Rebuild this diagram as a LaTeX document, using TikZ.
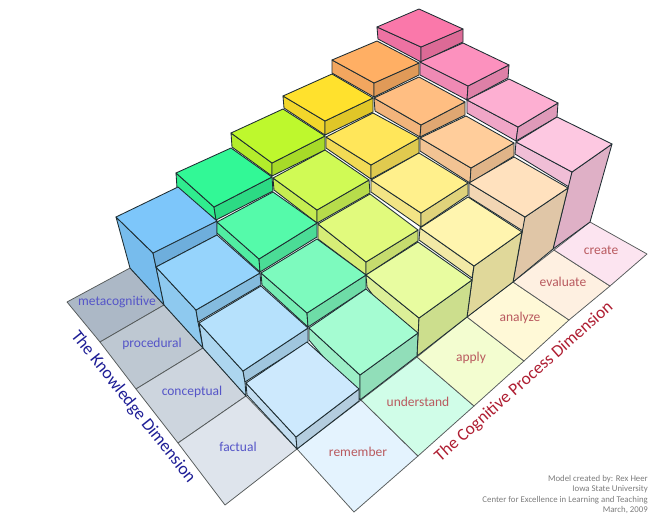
\documentclass[tikz,border=0pt]{standalone}
\usepackage{fontspec}
\setmainfont{Carlito}
\definecolor{kThree0}{RGB}{125,198,250}\definecolor{kThree1}{RGB}{50,248,150}\definecolor{kThree2}{RGB}{190,248,45}\definecolor{kThree3}{RGB}{255,225,45}\definecolor{kThree4}{RGB}{255,175,100}\definecolor{kThree5}{RGB}{250,120,170}
\definecolor{kTwo0}{RGB}{150,212,252}\definecolor{kTwo1}{RGB}{85,250,170}\definecolor{kTwo2}{RGB}{208,250,85}\definecolor{kTwo3}{RGB}{255,230,90}\definecolor{kTwo4}{RGB}{255,190,130}\definecolor{kTwo5}{RGB}{252,145,190}
\definecolor{kOne0}{RGB}{182,225,252}\definecolor{kOne1}{RGB}{125,250,190}\definecolor{kOne2}{RGB}{225,250,125}\definecolor{kOne3}{RGB}{255,240,140}\definecolor{kOne4}{RGB}{255,205,155}\definecolor{kOne5}{RGB}{253,175,210}
\definecolor{kZero0}{RGB}{205,233,253}\definecolor{kZero1}{RGB}{165,252,210}\definecolor{kZero2}{RGB}{232,252,160}\definecolor{kZero3}{RGB}{255,245,175}\definecolor{kZero4}{RGB}{255,225,190}\definecolor{kZero5}{RGB}{253,200,225}
\definecolor{edgecol}{RGB}{30,45,50}
\definecolor{floorline}{RGB}{85,90,90}
\definecolor{knowblue}{RGB}{85,85,200}
\definecolor{cogred}{RGB}{185,90,95}
\definecolor{knowtitle}{RGB}{30,30,150}
\definecolor{cogtitle}{RGB}{175,30,50}
\definecolor{credit}{RGB}{125,125,125}
\tikzset{
  edgeline/.style={draw=edgecol,line width=0.85pt,line join=round},
  tile/.style={draw=floorline,line width=0.75pt,line join=round},
  knowlabel/.style={font=\fontsize{13.5}{13.5}\selectfont,text=knowblue,inner sep=0pt},
  coglabel/.style={font=\fontsize{13.5}{13.5}\selectfont,text=cogred,inner sep=0pt},
  credittext/.style={font=\fontsize{8.8}{8.8}\selectfont,text=credit,inner sep=0pt,anchor=base east},
}
% colour; left, top, right, bottom of the top face; rest of left face; rest of right face
\newcommand\blk[7]{%
  \path[edgeline,fill=#1!95!black] #2 -- #5 #6 -- cycle;
  \path[edgeline,fill=#1!88!black] #5 -- #4 #7 -- cycle;
  \path[edgeline,fill=#1] #2 -- #3 -- #4 -- #5 -- cycle;
}
\begin{document}
\begin{tikzpicture}[x=1pt,y=-1pt]
\useasboundingbox (0,0) rectangle (650,516);
\fill[white] (0,0) rectangle (650,516);
% floor: knowledge tiles
\path[tile,fill={rgb,255:red,172;green,184;blue,198}] (67,302) -- (130,268) -- (164,305) -- (100,342) -- cycle;
\path[tile,fill={rgb,255:red,190;green,200;blue,210}] (100,342) -- (164,305) -- (203,348) -- (136,389) -- cycle;
\path[tile,fill={rgb,255:red,205;green,213;blue,222}] (136,389) -- (203,348) -- (246,396) -- (178,443) -- cycle;
\path[tile,fill={rgb,255:red,222;green,228;blue,236}] (178,443) -- (246,396) -- (297,449) -- (225,505) -- cycle;
% floor: cognitive tiles
\path[tile,fill={rgb,255:red,228;green,243;blue,254}] (297,449) -- (361,400) -- (418,456) -- (354,512) -- cycle;
\path[tile,fill={rgb,255:red,208;green,253;blue,232}] (361,400) -- (417,357) -- (474,406) -- (418,456) -- cycle;
\path[tile,fill={rgb,255:red,243;green,253;blue,208}] (417,357) -- (467,317) -- (524,361) -- (474,406) -- cycle;
\path[tile,fill={rgb,255:red,255;green,249;blue,215}] (467,317) -- (513,282) -- (569,320) -- (524,361) -- cycle;
\path[tile,fill={rgb,255:red,254;green,240;blue,225}] (513,282) -- (554,250) -- (610,286) -- (569,320) -- cycle;
\path[tile,fill={rgb,255:red,252;green,228;blue,240}] (554,250) -- (590,222) -- (647,254) -- (610,286) -- cycle;
% metacognitive row
\blk{kThree5}{(377,27)}{(419,9)}{(463,29)}{(421,47)}{-- (421,62) -- (378,39)}{-- (463,42) -- (421,62)}
\blk{kThree4}{(332,60)}{(377,41)}{(419,63)}{(374,83)}{-- (374,97) -- (332,73)}{-- (419,75) -- (374,97)}
\blk{kThree3}{(283,96)}{(332,74)}{(373,98)}{(325,121)}{-- (325,135) -- (284,108)}{-- (373,112) -- (325,135)}
\blk{kThree2}{(231,133)}{(283,109)}{(325,136)}{(272,163)}{-- (272,176) -- (232,147)}{-- (325,150) -- (272,176)}
\blk{kThree1}{(176,173)}{(231,148)}{(272,177)}{(214,207)}{-- (216,220) -- (177,188)}{-- (273,191) -- (216,220)}
\blk{kThree0}{(116,217)}{(178,187)}{(217,221)}{(153,253)}{-- (156,267) -- (164,305) -- (130,268)}{-- (217,235) -- (156,267)}
% procedural row
\blk{kTwo5}{(420,62)}{(463,43)}{(509,65)}{(468,86)}{-- (467,100) -- (420,75)}{-- (508,78) -- (467,100)}
\blk{kTwo4}{(374,98)}{(419,77)}{(465,102)}{(421,125)}{-- (420,137) -- (375,111)}{-- (465,115) -- (420,137)}
\blk{kTwo3}{(326,137)}{(373,113)}{(419,138)}{(371,165)}{-- (371,179) -- (326,148)}{-- (419,153) -- (371,179)}
\blk{kTwo2}{(273,178)}{(325,150)}{(369,180)}{(317,210)}{-- (317,223) -- (274,190)}{-- (370,193) -- (317,223)}
\blk{kTwo1}{(217,222)}{(273,192)}{(317,223)}{(259,259)}{-- (260,272) -- (217,233)}{-- (317,237) -- (260,272)}
\blk{kTwo0}{(156,267)}{(217,235)}{(260,273)}{(196,310)}{-- (198,322) -- (203,348) -- (164,305)}{-- (261,285) -- (198,322)}
% conceptual row
\blk{kOne5}{(467,100)}{(509,79)}{(558,103)}{(518,127)}{-- (516,141) -- (467,113)}{-- (557,117) -- (516,141)}
\blk{kOne4}{(420,138)}{(466,116)}{(514,143)}{(471,168)}{-- (470,183) -- (420,151)}{-- (514,156) -- (470,183)}
\blk{kOne3}{(371,180)}{(419,153)}{(468,183)}{(421,213)}{-- (421,227) -- (371,192)}{-- (468,195) -- (421,227)}
\blk{kOne2}{(318,224)}{(370,194)}{(418,230)}{(366,262)}{-- (366,275) -- (318,239)}{-- (418,241) -- (366,275)}
\blk{kOne1}{(261,273)}{(317,239)}{(366,275)}{(307,313)}{-- (308,327) -- (262,285)}{-- (366,289) -- (308,327)}
\blk{kOne0}{(199,323)}{(261,286)}{(308,328)}{(243,371)}{-- (245,382) -- (246,396) -- (203,348)}{-- (308,342) -- (245,382)}
% factual row
\blk{kZero5}{(516,142)}{(557,117)}{(612,144)}{(572,172)}{-- (569,187) -- (515,154)}{-- (590,222) -- (553,249)}
\blk{kZero4}{(469,183)}{(514,157)}{(568,188)}{(525,217)}{-- (523,231) -- (469,197)}{-- (553,249) -- (513,282)}
\blk{kZero3}{(420,228)}{(468,197)}{(522,232)}{(474,266)}{-- (472,278) -- (419,240)}{-- (513,282) -- (467,317)}
\blk{kZero2}{(366,275)}{(418,242)}{(472,280)}{(419,318)}{-- (417,356) -- (367,287)}{-- (467,317) -- (417,356)}
\blk{kZero1}{(309,328)}{(366,289)}{(418,333)}{(360,375)}{-- (360,400) -- (309,340)}{-- (417,356) -- (360,400)}
\blk{kZero0}{(246,383)}{(307,342)}{(359,389)}{(296,437)}{-- (297,449) -- (247,395)}{-- (359,401) -- (297,449)}
% labels
\node[knowlabel] (meta) at (117,302) {metacognitive};
\node[knowlabel] (proc) at (152,344) {procedural};
\node[knowlabel] (conc) at (192,392) {conceptual};
\node[knowlabel] (fact) at (238,447) {factual};
\node[coglabel] (reme) at (358,452) {remember};
\node[coglabel] (unde) at (418,402) {understand};
\node[coglabel] (appl) at (471,358) {apply};
\node[coglabel] (anal) at (520,318) {analyze};
\node[coglabel] (eval) at (563,282) {evaluate};
\node[coglabel] (crea) at (601,250) {create};
\node[font=\fontsize{17.5}{17.5}\selectfont,text=knowtitle,inner sep=0pt,rotate=-51.4] (ktitle) at (133,407) {The Knowledge Dimension};
\node[font=\fontsize{17.3}{17.3}\selectfont,text=cogtitle,inner sep=0pt,rotate=41.5] (ctitle) at (524,382) {The Cognitive Process Dimension};
\node[credittext] (cr1) at (648,481) {Model created by: Rex Heer};
\node[credittext] (cr2) at (648,491.5) {Iowa State University};
\node[credittext] (cr3) at (648,502) {Center for Excellence in Learning and Teaching};
\node[credittext] (cr4) at (648,512) {March, 2009};
\end{tikzpicture}
\end{document}
